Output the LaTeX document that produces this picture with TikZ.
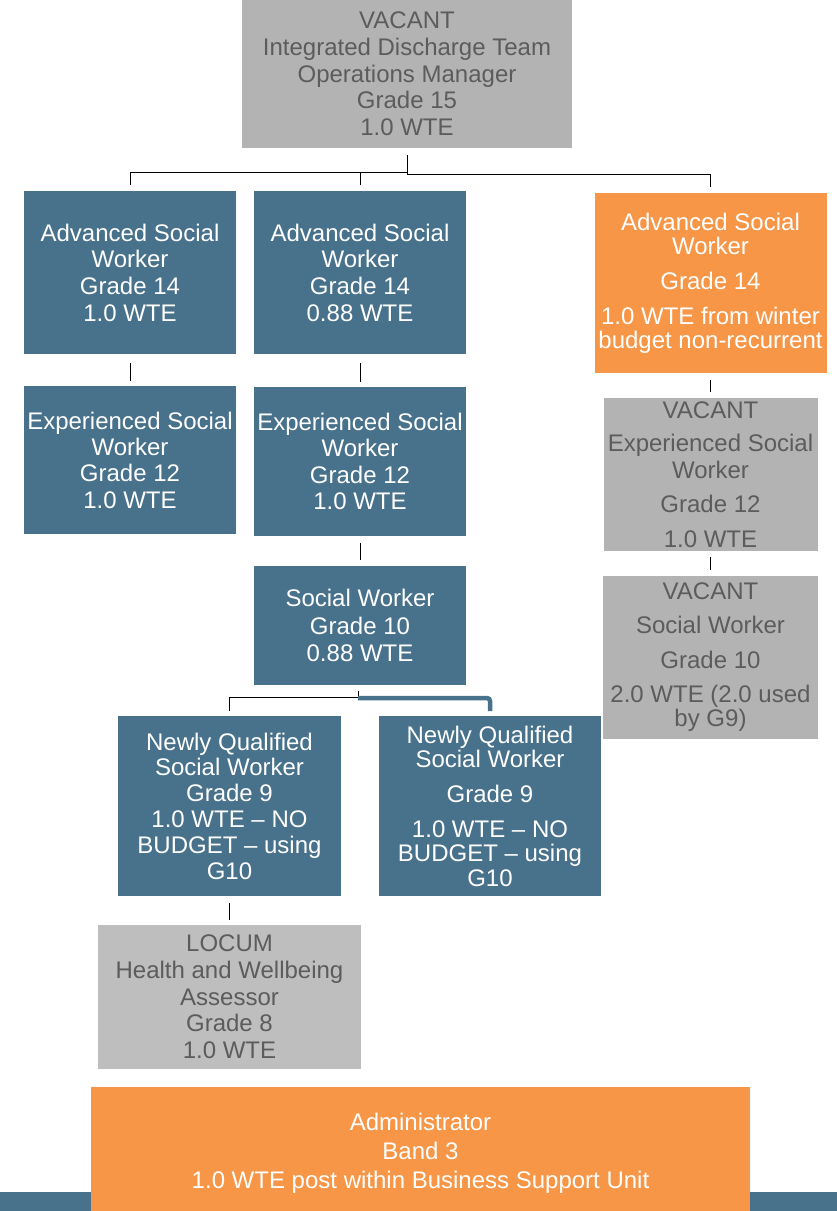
\documentclass[tikz,border=0pt]{standalone}
\usepackage{fontspec}
\setmainfont{Liberation Sans}
\definecolor{teamblue}{HTML}{48728C}
\definecolor{teamorange}{HTML}{F79646}
\definecolor{vacantgrey}{HTML}{B3B3B3}
\definecolor{locumgrey}{HTML}{BEBEBE}
\definecolor{greytext}{HTML}{5C5C5C}
\begin{document}
\begin{tikzpicture}[x=1pt,y=-1pt,
  post/.style={inner sep=0pt, outer sep=0pt, align=center,
    font=\fontsize{24}{26.7}\selectfont},
  tight/.style={font=\fontsize{24}{24}\selectfont},
  bluepost/.style={post, fill=teamblue, text=white},
  orangepost/.style={post, fill=teamorange, text=white},
  greypost/.style={post, fill=vacantgrey, text=greytext},
  locumpost/.style={post, fill=locumgrey, text=greytext},
  conn/.style={draw=black, line width=1pt},
  heavyconn/.style={draw=teamblue, line width=4.5pt, rounded corners=3pt}]
\useasboundingbox (0,0) rectangle (837,1211);

% manager
\node[greypost, minimum width=330pt, minimum height=148pt] (top) at (407,74)
  {VACANT\\Integrated Discharge Team\\Operations Manager\\Grade 15\\1.0 WTE};

% advanced social workers
\node[bluepost, minimum width=212pt, minimum height=163pt] (a1) at (130,272.5)
  {Advanced Social\\Worker\\Grade 14\\1.0 WTE};
\node[bluepost, minimum width=212pt, minimum height=163pt] (a2) at (360,272.5)
  {Advanced Social\\Worker\\Grade 14\\0.88 WTE};
\node[orangepost, tight, minimum width=232pt, minimum height=180pt] (a3) at (710.5,283)
  {Advanced Social\\Worker\\[11pt]Grade 14\\[11pt]1.0 WTE from winter\\budget non-recurrent};

% experienced social workers
\node[bluepost, font=\fontsize{24}{26.3}\selectfont, minimum width=212pt, minimum height=148pt] (e1) at (130,460)
  {Experienced Social\\Worker\\Grade 12\\1.0 WTE};
\node[bluepost, font=\fontsize{24}{26.3}\selectfont, minimum width=212pt, minimum height=149pt] (e2) at (360,461.5)
  {Experienced Social\\Worker\\Grade 12\\1.0 WTE};
\node[greypost, tight, minimum width=214pt, minimum height=153pt] (v1) at (710.5,474.5)
  {VACANT\\[9pt]Experienced Social\\[3pt]Worker\\[10pt]Grade 12\\[11pt]1.0 WTE};

% social workers
\node[bluepost, font=\fontsize{24}{27.5}\selectfont, minimum width=212pt, minimum height=119pt] (sw) at (360,625.5)
  {Social Worker\\Grade 10\\0.88 WTE};
\node[greypost, tight, minimum width=215pt, minimum height=163pt] (v2) at (710.5,657.5)
  {VACANT\\[10pt]Social Worker\\[11pt]Grade 10\\[10pt]2.0 WTE (2.0 used\\by G9)};

% newly qualified
\node[bluepost, font=\fontsize{24}{25.8}\selectfont, minimum width=223pt, minimum height=180pt] (nq1) at (229.5,806)
  {Newly Qualified\\Social Worker\\Grade 9\\1.0 WTE – NO\\BUDGET – using\\G10};
\node[bluepost, tight, minimum width=222pt, minimum height=180pt] (nq2) at (490,806)
  {Newly Qualified\\Social Worker\\[11pt]Grade 9\\[11pt]1.0 WTE – NO\\BUDGET – using\\[1pt]G10};

% locum
\node[locumpost, minimum width=263pt, minimum height=144pt] (locum) at (229.5,997)
  {LOCUM\\Health and Wellbeing\\Assessor\\Grade 8\\1.0 WTE};

% footer band and administrator (box runs past the page foot)
\fill[teamblue] (0,1192) rectangle (837,1211);
\node[orangepost, tight, minimum width=659pt, minimum height=132pt] (admin) at (420.5,1153)
  {Administrator\\[5pt]Band 3\\[5pt]1.0 WTE post within Business Support Unit};

% reporting lines
\draw[conn] ([yshift=-7pt]top.south) -- ([yshift=-26pt]top.south) -| ([yshift=6pt]a3.north);
\draw[conn] ([yshift=-24pt]top.south) -| ([yshift=6pt]a1.north);
\draw[conn] ([yshift=19pt]a2.north) -- ([yshift=6pt]a2.north);
\draw[conn] ([yshift=-9pt]a1.south) -- ([yshift=5pt]e1.north);
\draw[conn] ([yshift=-9pt]a2.south) -- ([yshift=5pt]e2.north);
\draw[conn] ([yshift=-7pt]e2.south) -- ([yshift=6pt]sw.north);
\draw[conn] ([yshift=-7pt]a3.south) -- ([yshift=6pt]v1.north);
\draw[conn] ([yshift=-6pt]v1.south) -- ([yshift=6pt]v2.north);
\draw[conn] ([xshift=-2pt,yshift=-6pt]sw.south) -- ([xshift=-2pt,yshift=-12pt]sw.south) -| ([yshift=5pt]nq1.north);
\draw[heavyconn] ([xshift=-2pt,yshift=-13pt]sw.south) -| ([yshift=5pt]nq2.north);
\draw[conn] ([yshift=-7pt]nq1.south) -- ([yshift=5pt]locum.north);
\end{tikzpicture}
\end{document}
